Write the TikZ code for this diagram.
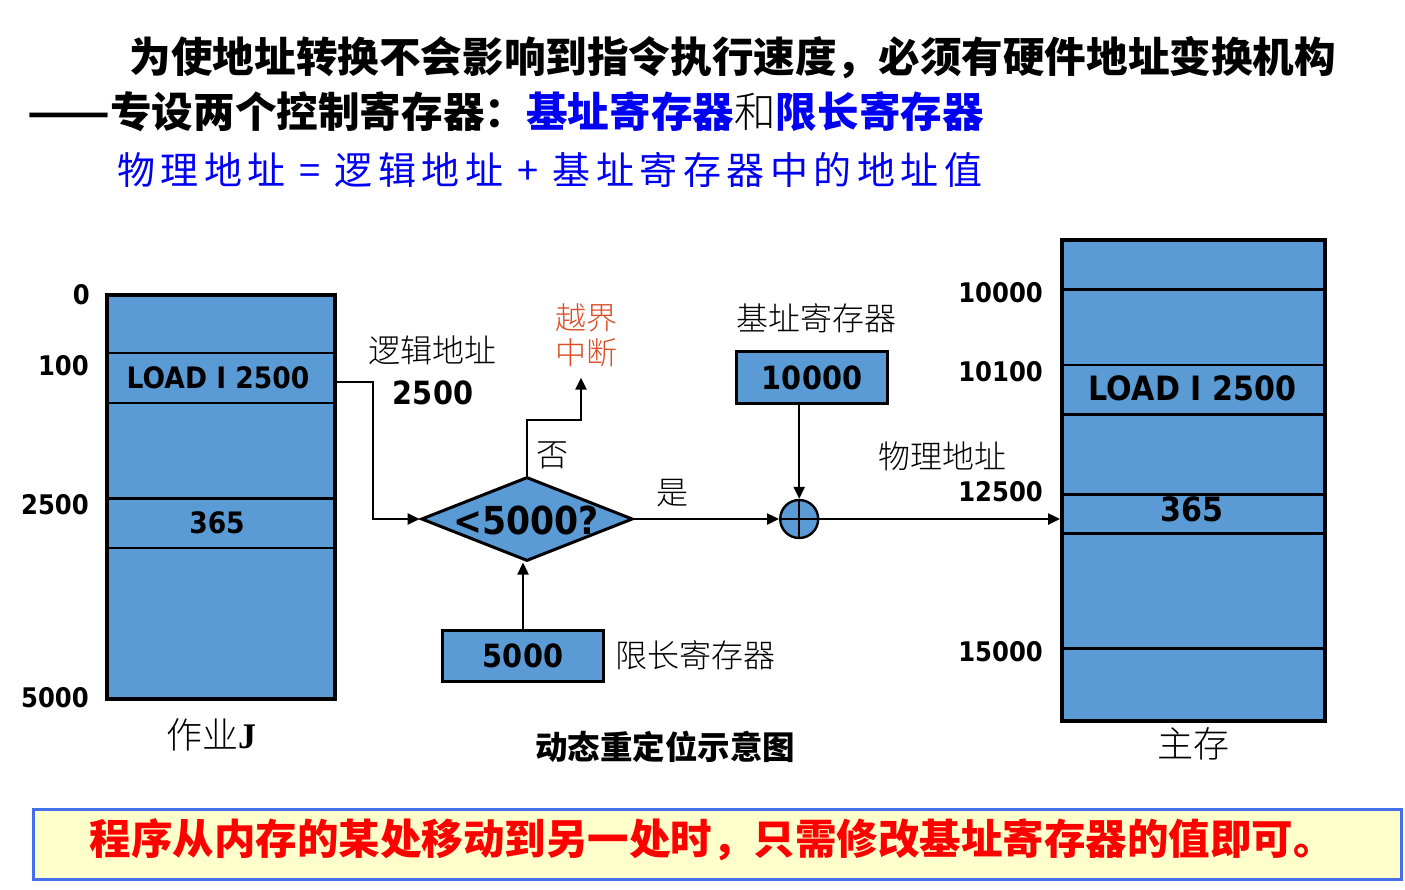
\documentclass[tikz,border=0pt]{standalone}
\usepackage{fontspec}
\usetikzlibrary{arrows.meta,shapes.geometric}
\newfontfamily\cjk{Noto Sans CJK SC}
\newfontfamily\cjkl{Noto Sans CJK SC Light}
\newfontfamily\cjksp[LetterSpace=14.5]{Noto Sans CJK SC}
\newfontfamily\numf[FakeStretch=0.9]{DejaVu Sans}
\newfontfamily\serJ{Liberation Serif}
\definecolor{memblue}{RGB}{91,155,213}
\definecolor{tblue}{RGB}{0,0,245}
\definecolor{ovfc}{RGB}{218,78,38}
\definecolor{bordc}{RGB}{70,112,235}
\definecolor{yel}{RGB}{255,255,204}
\tikzset{
  membox/.style={draw=black, line width=4pt, fill=memblue, inner sep=0pt},
  cellline/.style={line width=2.4pt},
  regbox/.style={draw=black, line width=2.6pt, fill=memblue, inner sep=0pt,
    font=\numf\bfseries\fontsize{32}{34}\selectfont},
  arr/.style={line width=2.4pt, -{Triangle[length=12pt,width=11pt]}},
  sidenum/.style={anchor=east, inner sep=0pt, font=\numf\bfseries\fontsize{27}{29}\selectfont},
  celltxt/.style={inner sep=0pt, font=\numf\bfseries\fontsize{29.5}{31}\selectfont},
  bigcell/.style={inner sep=0pt, font=\numf\bfseries\fontsize{33.5}{35}\selectfont},
  lbl/.style={inner sep=0pt, font=\cjkl\fontsize{32}{35}\selectfont},
  title/.style={anchor=west, inner sep=0pt, font=\cjk\bfseries\fontsize{41.6}{45}\selectfont},
}
\begin{document}
\begin{tikzpicture}[x=1pt,y=-1pt]
\useasboundingbox (0,0) rectangle (1405,889);
% titles
\node[title] (t1) at (129.5,57.5) {为使地址转换不会影响到指令执行速度，必须有硬件地址变换机构};
\node[title] (t2) at (27,111.5) {\resizebox{83pt}{\height}{——}专设两个控制寄存器：\textcolor{tblue}{基址寄存器}{\cjkl\mdseries 和}\textcolor{tblue}{限长寄存器}};
\node[anchor=west, inner sep=0pt, font=\cjksp\fontsize{38}{40}\selectfont, text=tblue] (t3) at (117,170) {物理地址 = 逻辑地址 + 基址寄存器中的地址值};
% job memory
\node[membox, minimum width=228pt, minimum height=404pt] (job) at (221,496.7) {};
\foreach \yy in {352.7,402.7,498.3,547.7}
  \draw[cellline] (job.west |- 0,\yy) -- (job.east |- 0,\yy);
\node[celltxt] (jl) at (218,377.7) {LOAD I 2500};
\node[celltxt] (j365) at (217,523) {365};
\node[sidenum] (j0) at (90,295) {0};
\node[sidenum] (j100) at (89,365.7) {100};
\node[sidenum] (j2500) at (89,505) {2500};
\node[sidenum] (j5000) at (89,697.7) {5000};
\node[inner sep=0pt] (jobname) at (211,735) {\cjkl\fontsize{36}{38}\selectfont 作业\serJ\bfseries J};
% main memory
\node[membox, minimum width=262.7pt, minimum height=481pt] (mem) at (1193.35,480.8) {};
\foreach \yy in {289.3,365,414.3,494.5,533.3,648.3}
  \draw[cellline] (mem.west |- 0,\yy) -- (mem.east |- 0,\yy);
\node[bigcell] (ml) at (1192.5,388.5) {LOAD I 2500};
\node[bigcell] (m365) at (1192,509) {365};
\node[sidenum] (m10000) at (1043,293) {10000};
\node[sidenum] (m10100) at (1043,371.7) {10100};
\node[sidenum] (m12500) at (1043,491.7) {12500};
\node[sidenum] (m15000) at (1043,651.7) {15000};
\node[lbl, font=\cjkl\fontsize{36}{38}\selectfont] (memname) at (1193,743.3) {主存};
% diamond
\node[diamond, draw=black, line width=3pt, fill=memblue, minimum width=211.6pt, minimum height=84pt, inner sep=0pt, shape aspect=2.52] (dia) at (527,519) {};
\node[inner sep=0pt, font=\numf\bfseries\fontsize{38.5}{40}\selectfont] (diat) at (526,520) {<5000?};
% registers
\node[regbox, minimum width=150.6pt, minimum height=51.6pt] (base) at (812,377.5) {10000};
\node[regbox, minimum width=160.6pt, minimum height=51pt] (lim) at (523,656.2) {5000};
\node[circle, draw=black, line width=2.4pt, fill=memblue, minimum size=38pt, inner sep=0pt] (plus) at (799.2,519) {};
\draw[line width=2.2pt] (plus.north) -- (plus.south) (plus.west) -- (plus.east);
% labels
\node[lbl] (lg) at (432,350) {逻辑地址};
\node[inner sep=0pt, font=\numf\bfseries\fontsize{32}{34}\selectfont] (lgn) at (433,392.7) {2500};
\node[lbl, text=ovfc, align=center, font=\cjkl\fontsize{31}{35}\selectfont] (ovf) at (586,335.5) {越界\\中断};
\node[lbl] (no) at (552.5,455.7) {否};
\node[lbl] (yes) at (672.5,493) {是};
\node[lbl] (basel) at (816.5,318) {基址寄存器};
\node[lbl] (liml) at (695,655) {限长寄存器};
\node[lbl] (phys) at (942,456.7) {物理地址};
\node[inner sep=0pt, font=\cjk\bfseries\fontsize{32.5}{35}\selectfont] (cap) at (665,746.5) {动态重定位示意图};
% connectors
\coordinate (bend1) at (372.7,381.7);
\draw[arr] (job.east |- bend1) -- (bend1) |- (dia.west);
\coordinate (ovfp) at (581,377.7);
\draw[arr] (dia.north) -- (dia.north |- 0,420) -| (ovfp);
\draw[arr] (dia.east) -- (plus.west);
\draw[arr] (base.south -| plus.north) -- (plus.north);
\draw[arr] (lim.north) -- (lim.north |- dia.south);
\draw[arr] (plus.east) -- (mem.west |- plus.east);
% banner
\node[draw=bordc, line width=2.7pt, fill=yel, minimum width=1368pt, minimum height=70pt, inner sep=0pt] (banner) at (717.5,844.2) {};
\node[inner sep=0pt, text=red, font=\cjk\bfseries\fontsize{41.5}{44}\selectfont] (bt) at (712,839.5) {程序从内存的某处移动到另一处时，只需修改基址寄存器的值即可。};
\end{tikzpicture}
\end{document}
